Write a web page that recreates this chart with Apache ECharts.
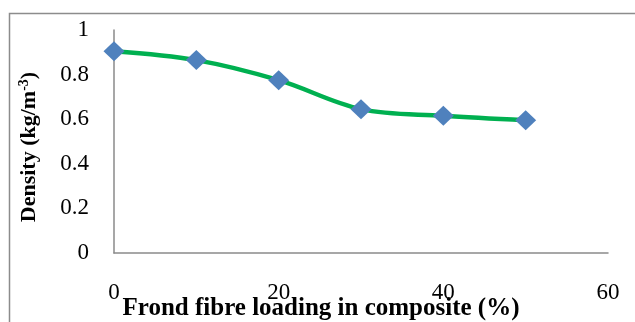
<!DOCTYPE html>
<html><head><meta charset="utf-8">
<script src="https://cdn.jsdelivr.net/npm/echarts@6/dist/echarts.min.js"></script>
<style>html,body{margin:0;padding:0;background:#fff}#c{width:635px;height:322px}</style>
</head><body><div id="c"></div>
<script>
const fibreLoading = [0, 10, 20, 30, 40, 50];
const density = [0.905, 0.865, 0.775, 0.645, 0.615, 0.595];
const xTitle = 'Frond fibre loading in composite (%)';

const chart = echarts.init(document.getElementById('c'), null, {renderer: 'canvas'});
const serif = '"Liberation Serif", "Times New Roman", serif';
chart.setOption({
  animation: false,
  backgroundColor: '#fff',
  graphic: [{
    type: 'rect', shape: {x: 9.5, y: 13.5, width: 700, height: 400},
    style: {fill: 'none', stroke: '#8c8c8c', lineWidth: 1.5}, silent: true
  }],
  grid: {left: 114, right: 27, top: 30, bottom: 69, outerBoundsMode: 'none', containLabel: false},
  xAxis: {
    type: 'value', min: 0, max: 60, interval: 20,
    axisLine: {lineStyle: {color: '#8a8a8a', width: 1.5}},
    axisTick: {show: false}, splitLine: {show: false},
    axisLabel: {color: '#000', fontFamily: serif, fontSize: 23, margin: 28},
    name: xTitle, nameLocation: 'middle', nameGap: 43, nameMoveOverlap: false,
    nameTextStyle: {color: '#000', fontFamily: serif, fontSize: 25, fontWeight: 'bold', padding: [0, 80, 0, 0]}
  },
  yAxis: {
    type: 'value', min: 0, max: 1, interval: 0.2,
    axisLine: {show: true, lineStyle: {color: '#8a8a8a', width: 1.5}},
    axisTick: {show: false}, splitLine: {show: false},
    axisLabel: {color: '#000', fontFamily: serif, fontSize: 23, margin: 25},
    name: '{a|Density (kg/m}{s|-3}{a|)}', nameLocation: 'middle', nameGap: 73, nameRotate: 90, nameMoveOverlap: false,
    nameTextStyle: {
      padding: [0, 11, 0, 0],
      rich: {
        a: {fontFamily: serif, fontSize: 22, fontWeight: 'bold', color: '#000', lineHeight: 24},
        s: {fontFamily: serif, fontSize: 14, fontWeight: 'bold', color: '#000', verticalAlign: 'top', lineHeight: 24, padding: [0, 0, 11, 0]}
      }
    }
  },
  series: [{
    type: 'line', smooth: 0.35,
    data: fibreLoading.map((x, i) => [x, density[i]]),
    lineStyle: {color: '#00B050', width: 4.5},
    symbol: 'diamond', symbolSize: [21, 20],
    itemStyle: {color: '#4F81BD'}
  }]
});
</script></body></html>
